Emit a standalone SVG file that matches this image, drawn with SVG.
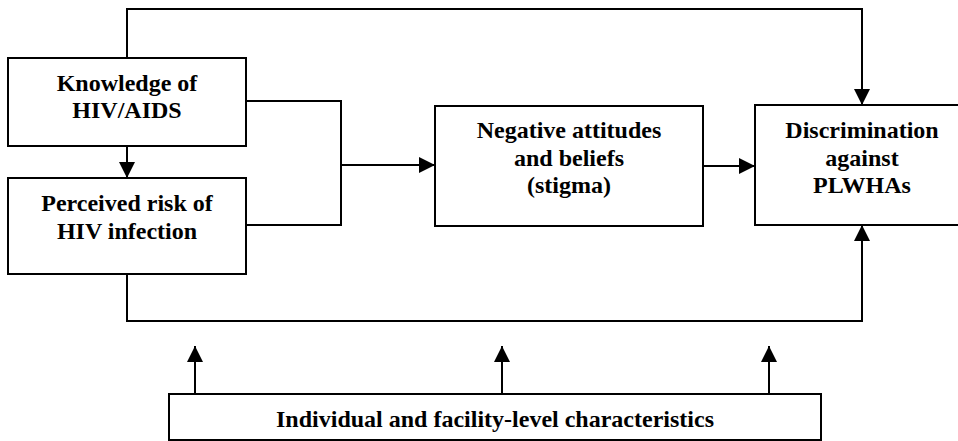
<svg xmlns="http://www.w3.org/2000/svg" width="958" height="441" viewBox="0 0 958 441">
<style>
.box{fill:#fff;stroke:#000;stroke-width:2}
.ln{fill:none;stroke:#000;stroke-width:2}
.t{font-family:"Liberation Serif","Times New Roman",serif;font-weight:bold;font-size:24px;text-anchor:middle;fill:#000}
</style>
<defs>
<marker id="ah" viewBox="0 0 16 16" refX="16" refY="8" markerWidth="16" markerHeight="16" markerUnits="userSpaceOnUse" orient="auto">
<path d="M0,0 L16,8 L0,16 Z" fill="#000"/>
</marker>
</defs>
<g id="connectors">
<path class="ln" d="M127,58 V9 H862 V105" marker-end="url(#ah)"/>
<path class="ln" d="M127,146 V178" marker-end="url(#ah)"/>
<path class="ln" d="M246,101 H341 V225 H246"/>
<path class="ln" d="M341,165 H435" marker-end="url(#ah)"/>
<path class="ln" d="M703,166 H755" marker-end="url(#ah)"/>
<path class="ln" d="M127,274 V321 H862 V225" marker-end="url(#ah)"/>
<path class="ln" d="M195,394 V346" marker-end="url(#ah)"/>
<path class="ln" d="M502,394 V346" marker-end="url(#ah)"/>
<path class="ln" d="M769,394 V346" marker-end="url(#ah)"/>
</g>
<g id="knowledge">
<rect class="box" x="8" y="58" width="238" height="88"/>
<text class="t" x="127" y="91">Knowledge of</text>
<text class="t" x="127" y="118">HIV/AIDS</text>
</g>
<g id="risk">
<rect class="box" x="8" y="178" width="238" height="96"/>
<text class="t" x="127" y="211">Perceived risk of</text>
<text class="t" x="127" y="239">HIV infection</text>
</g>
<g id="stigma">
<rect class="box" x="435" y="106" width="268" height="120"/>
<text class="t" x="569" y="138">Negative attitudes</text>
<text class="t" x="569" y="166">and beliefs</text>
<text class="t" x="569" y="193">(stigma)</text>
</g>
<g id="discrimination">
<rect class="box" x="755" y="105" width="220" height="120"/>
<text class="t" x="862" y="138">Discrimination</text>
<text class="t" x="862" y="166">against</text>
<text class="t" x="862" y="193">PLWHAs</text>
</g>
<g id="characteristics">
<rect class="box" x="169" y="394" width="652" height="46"/>
<text class="t" x="495" y="427">Individual and facility-level characteristics</text>
</g>
</svg>
